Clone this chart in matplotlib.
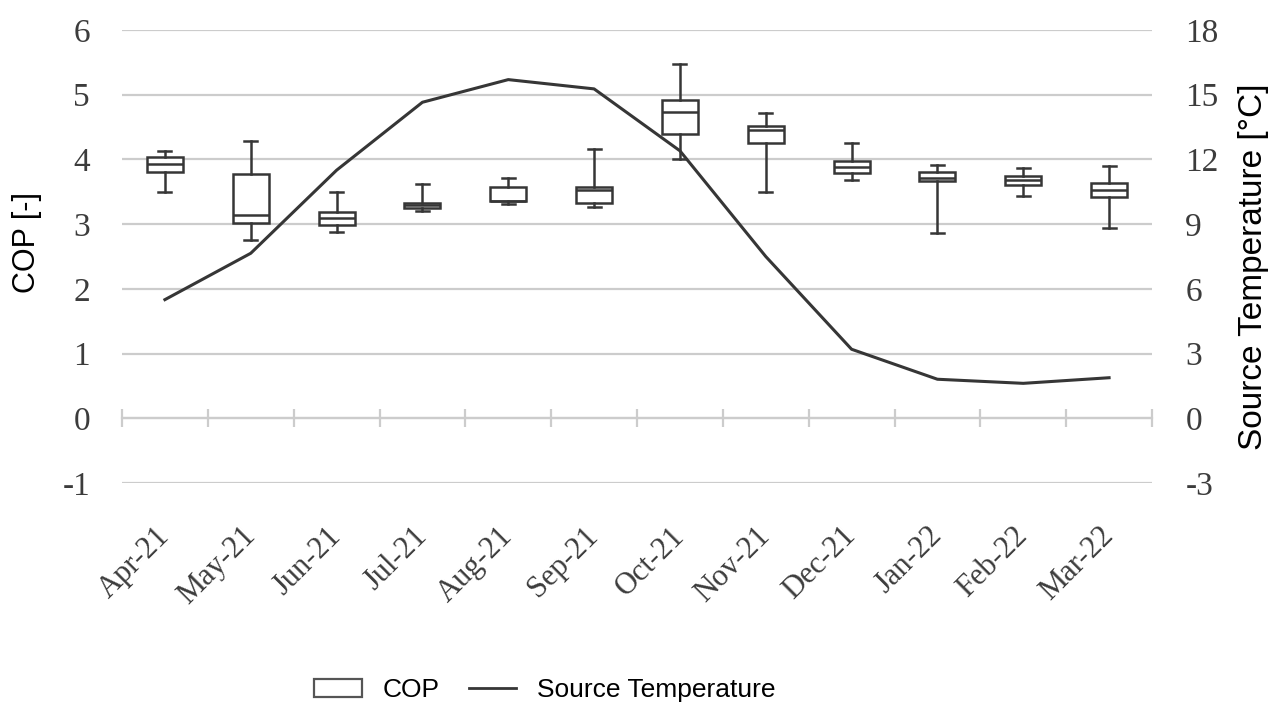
import matplotlib
matplotlib.use("Agg")
import matplotlib.pyplot as plt
from matplotlib.patches import Patch
from matplotlib.lines import Line2D

# months on the x axis
months = ['Apr-21', 'May-21', 'Jun-21', 'Jul-21', 'Aug-21', 'Sep-21',
          'Oct-21', 'Nov-21', 'Dec-21', 'Jan-22', 'Feb-22', 'Mar-22']

# COP box plot stats
cop_whislo = [3.50, 2.76, 2.88, 3.21, 3.31, 3.26, 4.00, 3.49, 3.68, 2.86, 3.44, 2.94]
cop_q1 = [3.80, 3.02, 2.98, 3.25, 3.35, 3.32, 4.40, 4.25, 3.79, 3.67, 3.61, 3.42]
cop_med = [3.93, 3.14, 3.09, 3.29, 3.36, 3.53, 4.74, 4.46, 3.89, 3.72, 3.68, 3.53]
cop_q3 = [4.03, 3.77, 3.18, 3.32, 3.58, 3.58, 4.92, 4.52, 3.97, 3.80, 3.74, 3.64]
cop_whishi = [4.13, 4.29, 3.49, 3.62, 3.71, 4.16, 5.48, 4.71, 4.25, 3.92, 3.86, 3.90]

# monthly mean source temperature [°C]
source_temp = [5.5, 7.65, 11.5, 14.65, 15.7, 15.27, 12.4, 7.5, 3.2, 1.81, 1.62, 1.88]

cop_ticks = [-1, 0, 1, 2, 3, 4, 5, 6]
temp_ticks = [-3, 0, 3, 6, 9, 12, 15, 18]

dark = '#363636'
grid_col = '#cccccc'
txt_col = '#3c3c3c'
serif = 'Liberation Serif'
sans = 'Liberation Sans'

fig = plt.figure(figsize=(12.77, 7.11), dpi=100)
ax = fig.add_axes([122 / 1277, 1 - 483 / 711, 1030 / 1277, 453 / 711])

positions = list(range(1, len(months) + 1))
stats = []
for i in range(len(months)):
    stats.append({'med': cop_med[i], 'q1': cop_q1[i], 'q3': cop_q3[i],
                  'whislo': cop_whislo[i], 'whishi': cop_whishi[i], 'fliers': []})

ax.bxp(stats, positions=positions, widths=0.42, capwidths=0.15, patch_artist=True,
       boxprops=dict(facecolor='white', edgecolor=dark, linewidth=1.8),
       medianprops=dict(color=dark, linewidth=1.8),
       whiskerprops=dict(color=dark, linewidth=1.8),
       capprops=dict(color=dark, linewidth=1.8), zorder=3)

ax.set_xlim(0.5, len(months) + 0.5)
ax.set_ylim(cop_ticks[0], cop_ticks[-1])
ax.set_yticks(cop_ticks)
ax.set_yticklabels([str(t) for t in cop_ticks], fontfamily=serif, fontsize=24, color=txt_col)
ax.set_xticks(positions)
ax.set_xticklabels(months, rotation=45, ha='right', va='center', rotation_mode='anchor',
                   fontfamily=serif, fontsize=22, color=txt_col)
ax.tick_params(axis='x', length=0, pad=35)
ax.tick_params(axis='y', length=0, pad=23)
ax.grid(axis='y', color=grid_col, linewidth=1.6)
ax.set_axisbelow(True)
for s in ax.spines.values():
    s.set_visible(False)
ax.set_ylabel('COP [-]', fontfamily=sans, fontsize=22)
ax.yaxis.set_label_coords(-0.078, 0.532)

# zero line with category separator ticks
zero_ax = ax.secondary_xaxis(0, transform=ax.transData)
zero_ax.set_xticks([p - 0.5 for p in positions] + [len(months) + 0.5])
zero_ax.set_xticklabels([])
zero_ax.tick_params(axis='x', direction='inout', length=13, width=1.6, color=grid_col)
zero_ax.spines['bottom'].set_color(grid_col)
zero_ax.spines['bottom'].set_linewidth(1.6)

# source temperature on the right axis
ax2 = ax.twinx()
ax2.plot(positions, source_temp, color=dark, linewidth=2.2, zorder=4)
ax2.set_ylim(temp_ticks[0], temp_ticks[-1])
ax2.set_yticks(temp_ticks)
ax2.set_yticklabels([str(t) for t in temp_ticks], fontfamily=serif, fontsize=24, color=txt_col)
ax2.tick_params(axis='y', length=0, pad=24)
for s in ax2.spines.values():
    s.set_visible(False)
ax2.set_ylabel('Source Temperature [°C]', fontfamily=sans, fontsize=24)
ax2.yaxis.set_label_coords(1.0835, 0.478)

handles = [Patch(facecolor='white', edgecolor='#555555', linewidth=1.6),
           Line2D([], [], color=dark, linewidth=2.0)]
fig.legend(handles, ['COP', 'Source Temperature'], loc='center',
           bbox_to_anchor=(545 / 1277, 1 - 690 / 711), ncol=2, frameon=False,
           prop={'family': sans, 'size': 19}, handlelength=1.8, handleheight=0.7,
           handletextpad=0.8, columnspacing=1.1)

fig.savefig('out.png', dpi=100)
